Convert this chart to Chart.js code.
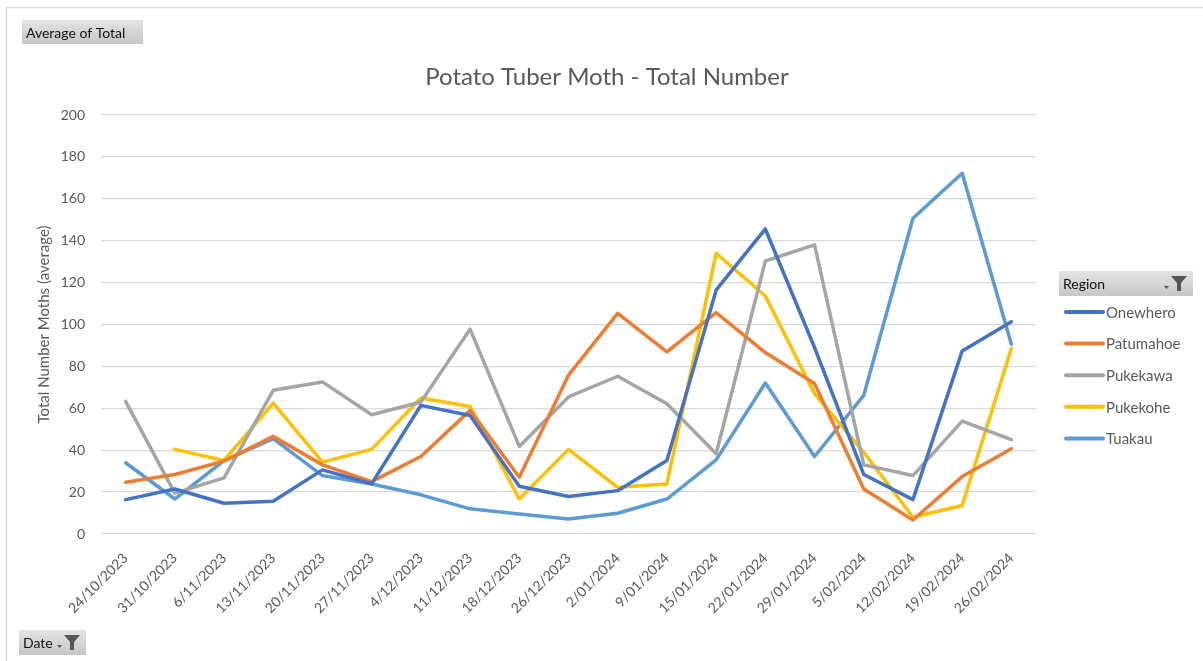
<!DOCTYPE html>
<html>
<head>
<meta charset="utf-8">
<title>Potato Tuber Moth - Total Number</title>
<script src="https://cdn.jsdelivr.net/npm/chart.js@4/dist/chart.umd.min.js"></script>
<style>
	html, body { margin: 0; padding: 0; background: #fff; }
	#chart { display: block; }
</style>
</head>
<body>
<canvas id="chart" width="1203" height="661"></canvas>
<script>
const dates = [ '24/10/2023', '31/10/2023', '6/11/2023', '13/11/2023', '20/11/2023', '27/11/2023',
	'4/12/2023', '11/12/2023', '18/12/2023', '26/12/2023', '2/01/2024', '9/01/2024', '15/01/2024',
	'22/01/2024', '29/01/2024', '5/02/2024', '12/02/2024', '19/02/2024', '26/02/2024' ];

const regions = [ 'Onewhero', 'Patumahoe', 'Pukekawa', 'Pukekohe', 'Tuakau' ];
const regionColours = [ '#4472C4', '#ED7D31', '#A5A5A5', '#FFC000', '#5B9BD5' ];

const onewhero = [ 16.4, 21.5, 14.7, 15.6, 30.6, 24, 61.4, 56.6, 22.8, 17.9, 20.7, 35.1, 116.4, 145.6, 89, 28.4, 16.4, 87.4, 101.3 ];
const patumahoe = [ 24.7, 28.4, 34.8, 46.6, 33, 25, 37, 59, 27.1, 75.8, 105.3, 86.9, 105.7, 86.6, 71.8, 21.5, 6.7, 27.4, 40.7 ];
const pukekawa = [ 63.3, 19.5, 26.8, 68.6, 72.6, 56.9, 63, 97.8, 41.8, 65.4, 75.3, 62.2, 38.3, 130.3, 138, 33, 27.9, 53.9, 45 ];
const pukekohe = [ null, 40.4, 35.1, 62.5, 34.3, 40.4, 64.9, 60.9, 16.7, 40.4, 22.3, 23.9, 134, 113.6, 67, 39, 8, 13.6, 88.5 ];
const tuakau = [ 34, 16.7, 35, 45.5, 27.9, 23.9, 18.7, 12, 9.6, 7.2, 9.9, 16.7, 35.4, 72.1, 37, 66.2, 150.7, 172.2, 90.6 ];

const seriesValues = [ onewhero, patumahoe, pukekawa, pukekohe, tuakau ];

const chartTitle = 'Potato Tuber Moth - Total Number';

const FONT = 'Lato, "Noto Sans", sans-serif';
const GREY_TEXT = '#595959';

// pivot chart field buttons, title, legend box and outer border
const pivotDecor = {
	id: 'pivotDecor',
	beforeDraw: ( chart ) => {
		const ctx = chart.ctx;
		ctx.save();
		ctx.fillStyle = '#fff';
		ctx.fillRect( 0, 0, chart.width, chart.height );
		ctx.strokeStyle = '#d9d9d9';
		ctx.lineWidth = 1.5;
		ctx.strokeRect( 6.5, 7.5, chart.width + 10, chart.height + 10 );
		ctx.restore();
	},
	afterDraw: ( chart ) => {
		const ctx = chart.ctx;

		const button = ( x, y, w, h, text, filter ) => {
			const grad = ctx.createLinearGradient( 0, y, 0, y + h );
			grad.addColorStop( 0, '#e4e4e4' );
			grad.addColorStop( 1, '#c6c6c6' );
			ctx.fillStyle = grad;
			ctx.fillRect( x, y, w, h );
			ctx.fillStyle = '#111';
			ctx.font = '14px ' + FONT;
			ctx.textBaseline = 'middle';
			ctx.textAlign = 'left';
			ctx.fillText( text, x + 4, y + h / 2 + 1 );
			if ( filter ) {
				const fx = x + w - 22;
				const fy = y + 5;
				ctx.fillStyle = '#555';
				ctx.beginPath();
				ctx.moveTo( fx, fy );
				ctx.lineTo( fx + 16, fy );
				ctx.lineTo( fx + 10, fy + 7 );
				ctx.lineTo( fx + 10, fy + 15 );
				ctx.lineTo( fx + 6, fy + 15 );
				ctx.lineTo( fx + 6, fy + 7 );
				ctx.closePath();
				ctx.fill();
				ctx.beginPath();
				ctx.moveTo( fx - 7, fy + 10 );
				ctx.lineTo( fx - 2, fy + 10 );
				ctx.lineTo( fx - 4.5, fy + 13 );
				ctx.closePath();
				ctx.fill();
			}
		};

		ctx.save();
		ctx.fillStyle = GREY_TEXT;
		ctx.font = '24px ' + FONT;
		ctx.textAlign = 'center';
		ctx.textBaseline = 'middle';
		ctx.fillText( chartTitle, 607, 77 );

		button( 22, 20, 121, 24, 'Average of Total', false );
		button( 19, 630, 67, 25, 'Date', true );
		button( 1059, 271, 134, 25, 'Region', true );

		chart.data.datasets.forEach( ( ds, i ) => {
			const y = 312 + i * 31.6;
			ctx.strokeStyle = ds.borderColor;
			ctx.lineWidth = 4;
			ctx.lineCap = 'round';
			ctx.beginPath();
			ctx.moveTo( 1066, y );
			ctx.lineTo( 1103, y );
			ctx.stroke();
			ctx.fillStyle = GREY_TEXT;
			ctx.font = '15px ' + FONT;
			ctx.textBaseline = 'middle';
			ctx.textAlign = 'left';
			ctx.fillText( ds.label, 1106, y + 1 );
		} );
		ctx.restore();
	}
};

window.onload = () => {
	const ctx = document.getElementById( 'chart' ).getContext( '2d' );
	new Chart( ctx, {
		type: 'line',
		data: {
			labels: dates,
			datasets: regions.map( ( name, i ) => ( {
				label: name,
				data: seriesValues[ i ],
				borderColor: regionColours[ i ],
				backgroundColor: regionColours[ i ],
				borderWidth: 3.5,
				pointRadius: 0,
				tension: 0,
				fill: false,
				borderJoinStyle: 'round',
				borderCapStyle: 'round',
			} ) ),
		},
		options: {
			responsive: false,
			animation: false,
			layout: {
				padding: { left: 0, right: 167, top: 115, bottom: 27 },
			},
			plugins: {
				legend: { display: false },
				tooltip: { enabled: false },
				title: { display: false },
			},
			scales: {
				x: {
					offset: true,
					grid: { display: false },
					border: { display: false },
					ticks: {
						color: GREY_TEXT,
						font: { family: FONT, size: 14 },
						minRotation: 45,
						maxRotation: 45,
						autoSkip: false,
						padding: 8,
					},
					afterFit: ( scale ) => { scale.height = 100; },
				},
				y: {
					min: 0,
					max: 200,
					grid: { color: '#d9d9d9', lineWidth: 1.3, drawTicks: false },
					border: { display: false },
					ticks: {
						stepSize: 20,
						color: GREY_TEXT,
						font: { family: FONT, size: 14 },
						padding: 16,
					},
					title: {
						display: true,
						text: 'Total Number Moths (average)',
						color: GREY_TEXT,
						font: { family: FONT, size: 15 },
						padding: { top: 35, bottom: 0 },
					},
					afterFit: ( scale ) => { scale.width = 101; },
				},
			},
		},
		plugins: [ pivotDecor ],
	} );
};
</script>
</body>
</html>
